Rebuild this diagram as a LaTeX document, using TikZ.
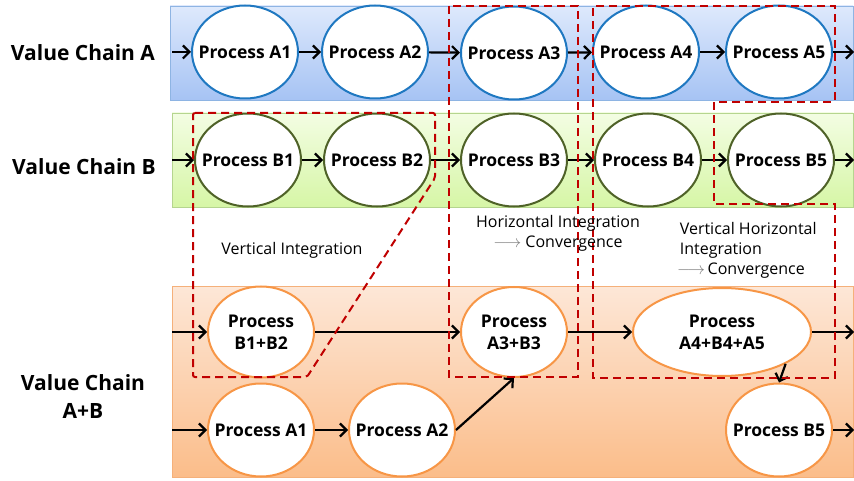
\documentclass[tikz,border=0pt]{standalone}
\usepackage{fontspec}
\setmainfont{Open Sans}
\usetikzlibrary{shapes.geometric,arrows.meta}

\definecolor{procblue}{HTML}{1F78C1}
\definecolor{procgreen}{HTML}{4F6228}
\definecolor{procorange}{HTML}{F79646}
\definecolor{dashred}{HTML}{C00000}
\definecolor{bandAtop}{HTML}{DEE9FC}
\definecolor{bandAbot}{HTML}{A6C3F4}
\definecolor{bandAline}{HTML}{8EB4E3}
\definecolor{bandBtop}{HTML}{F3FDE3}
\definecolor{bandBbot}{HTML}{D6F6A6}
\definecolor{bandBline}{HTML}{B5D58F}
\definecolor{bandCtop}{HTML}{FDE7D7}
\definecolor{bandCbot}{HTML}{FBBD8A}
\definecolor{bandCline}{HTML}{F5B07A}
\newcommand{\nolap}[1]{\makebox[0pt]{#1}}

\begin{document}
\begin{tikzpicture}[x=1pt,y=-1pt]

    \tikzset{
      proc/.style={
        ellipse,
        draw,
        fill=white,
        line width=2pt,
        inner sep=0pt,
        minimum width=106pt,
        minimum height=93pt,
        align=center,
        font=\fontsize{17.5}{22}\selectfont\bfseries,
      },
      procA/.style={proc,draw=procblue},
      procB/.style={proc,draw=procgreen},
      procAB/.style={proc,draw=procorange},
      flow/.style={line width=2.2pt,-{Straight Barb[length=6.5pt,width=13pt,line width=2.2pt]}},
      redbox/.style={draw=dashred,line width=2pt,dash pattern=on 8pt off 5pt},
      chain/.style={align=center,font=\fontsize{21}{28}\selectfont\bfseries},
      note/.style={font=\fontsize{16}{20}\selectfont},
    }
    \useasboundingbox (0,0) rectangle (854,481);

    % bands
    \draw[draw=bandAline,line width=0.8pt,top color=bandAtop,bottom color=bandAbot] (170,6) rectangle (853,100);
    \draw[draw=bandBline,line width=0.8pt,top color=bandBtop,bottom color=bandBbot] (172,113) rectangle (853,207);
    \draw[draw=bandCline,line width=0.8pt,top color=bandCtop,bottom color=bandCbot] (172,286) rectangle (853,477);

    % row labels
    \node[chain] (chainA) at (83,53) {Value Chain A};
    \node[chain] (chainB) at (84,167) {Value Chain B};
    \node[chain] (chainAB) at (83,397) {Value Chain\\A+B};

    % value chain A
    \node[procA] (a1) at (245,52) {\nolap{Process A1}};
    \node[procA] (a2) at (375,52) {\nolap{Process A2}};
    \node[procA] (a3) at (514,53) {\nolap{Process A3}};
    \node[procA] (a4) at (646,52) {\nolap{Process A4}};
    \node[procA] (a5) at (779,52) {\nolap{Process A5}};
    \coordinate (inA) at (172,52);
    \coordinate (outA) at (854,52);
    \draw[flow] (inA) -- (a1);
    \draw[flow] (a1) -- (a2);
    \draw[flow] (a2) -- (a3);
    \draw[flow] (a3) -- (a4);
    \draw[flow] (a4) -- (a5);
    \draw[flow] (a5) -- (outA);

    % value chain B
    \node[procB] (b1) at (248,160) {\nolap{Process B1}};
    \node[procB] (b2) at (377,160) {\nolap{Process B2}};
    \node[procB] (b3) at (514,160) {\nolap{Process B3}};
    \node[procB] (b4) at (648,160) {\nolap{Process B4}};
    \node[procB] (b5) at (781,160) {\nolap{Process B5}};
    \coordinate (inB) at (172,160);
    \coordinate (outB) at (854,160);
    \draw[flow] (inB) -- (b1);
    \draw[flow] (b1) -- (b2);
    \draw[flow] (b2) -- (b3);
    \draw[flow] (b3) -- (b4);
    \draw[flow] (b4) -- (b5);
    \draw[flow] (b5) -- (outB);

    % value chain A+B
    \node[procAB,minimum height=91pt] (ab12) at (261,332) {\nolap{Process}\\\nolap{B1+B2}};
    \node[procAB,minimum height=90pt] (ab3) at (514,332) {\nolap{Process}\\\nolap{A3+B3}};
    \node[procAB,minimum width=178pt,minimum height=88pt] (ab45) at (722,332) {\nolap{Process}\\\nolap{A4+B4+A5}};
    \node[procAB] (a1m) at (261,430) {\nolap{Process A1}};
    \node[procAB] (a2m) at (402,430) {\nolap{Process A2}};
    \node[procAB] (b5m) at (779,430) {\nolap{Process B5}};
    \coordinate (inU) at (172,332);
    \coordinate (inL) at (172,430);
    \coordinate (outU) at (854,332);
    \coordinate (outL) at (854,430);
    \draw[flow] (inU) -- (ab12);
    \draw[flow] (ab12) -- (ab3);
    \draw[flow] (ab3) -- (ab45);
    \draw[flow] (ab45) -- (outU);
    \draw[flow] (ab45.south east) -- (b5m.north);
    \draw[flow] (inL) -- (a1m);
    \draw[flow] (a1m) -- (a2m);
    \draw[flow] (a2m.east) -- (ab3.south);
    \draw[flow] (b5m) -- (outL);

    % integration boxes
    \draw[redbox,rounded corners=2pt] (193,113) -- (435,113) -- (435,178) -- (307,377) -- (193,377) -- cycle;
    \draw[redbox] (449,6) rectangle (578,377);
    \draw[redbox] (835,100) -- (835,6) -- (593,6) -- (593,378) -- (835,378) -- (835,204) -- (714,204) -- (714,102) -- (835,102);

    % notes
    \node[note] (vint) at (292,250) {Vertical Integration};
    \node[note,align=center] (hint) at (558,233) {Horizontal Integration\\{\color{gray}$\longrightarrow$} Convergence};
    \node[note,align=left,anchor=north west,inner sep=0pt] (vhint) at (677,222) {\,Vertical Horizontal\\\,Integration\\{\color{gray}$\longrightarrow$}\,Convergence};

\end{tikzpicture}
\end{document}
